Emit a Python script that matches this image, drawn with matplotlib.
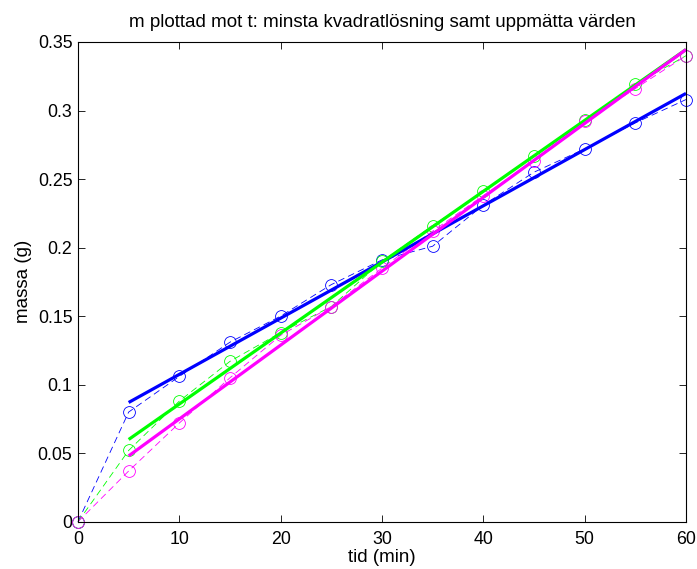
import matplotlib
matplotlib.use("Agg")
import matplotlib.pyplot as plt

plt.rcParams['font.family'] = ['Liberation Sans', 'DejaVu Sans']

t = [0, 5, 10, 15, 20, 25, 30, 35, 40, 45, 50, 55, 60]
m_blue = [0, 0.080, 0.106, 0.131, 0.150, 0.173, 0.191, 0.201, 0.231, 0.255, 0.272, 0.291, 0.308]
m_green = [0, 0.052, 0.088, 0.117, 0.138, 0.157, 0.190, 0.216, 0.241, 0.267, 0.293, 0.319, 0.340]
m_magenta = [0, 0.037, 0.072, 0.105, 0.136, 0.157, 0.185, 0.212, 0.238, 0.263, 0.292, 0.316, 0.340]

fit_t = [5, 60]
fit_blue = [0.087, 0.3125]
fit_green = [0.060, 0.3445]
fit_magenta = [0.048, 0.3445]

xticks = [0, 10, 20, 30, 40, 50, 60]
yticks = [0, 0.05, 0.1, 0.15, 0.2, 0.25, 0.3, 0.35]
ytick_labels = ['0', '0.05', '0.1', '0.15', '0.2', '0.25', '0.3', '0.35']

fig = plt.figure(figsize=(6.97, 5.69), dpi=100)
ax = fig.add_axes([0.1119, 0.0831, 0.8723, 0.8431])

series = [
    (m_blue, fit_blue, (0, 0, 1)),
    (m_green, fit_green, (0, 1, 0)),
    (m_magenta, fit_magenta, (1, 0, 1)),
]
for data, fit, col in series:
    ax.plot(t, data, linestyle=(0, (8, 5)), color=col, linewidth=0.6, clip_on=False)
    ax.plot(t, data, linestyle='none', marker='o', markersize=8.5, clip_on=False,
            markerfacecolor='none', markeredgecolor=col, markeredgewidth=0.6)
for data, fit, col in series:
    ax.plot(fit_t, fit, color=col, linewidth=2.3, solid_capstyle='butt')

ax.set_xlim(0, 60)
ax.set_ylim(0, 0.35)
ax.set_xticks(xticks)
ax.set_xticklabels([str(x) for x in xticks])
ax.set_yticks(yticks)
ax.set_yticklabels(ytick_labels)
ax.tick_params(direction='in', top=True, right=True, length=5, width=0.6,
               labelsize=12.8)
ax.tick_params(axis='x', pad=6.5)
ax.tick_params(axis='y', pad=4)
for s in ax.spines.values():
    s.set_linewidth(0.8)
ax.set_xlabel('tid (min)', fontsize=13.5, labelpad=1)
ax.set_ylabel('massa (g)', fontsize=13.5, labelpad=4)
ax.set_title('m plottad mot t: minsta kvadratlösning samt uppmätta värden', fontsize=13.5, pad=10.5)

fig.savefig('out.png', dpi=100)
